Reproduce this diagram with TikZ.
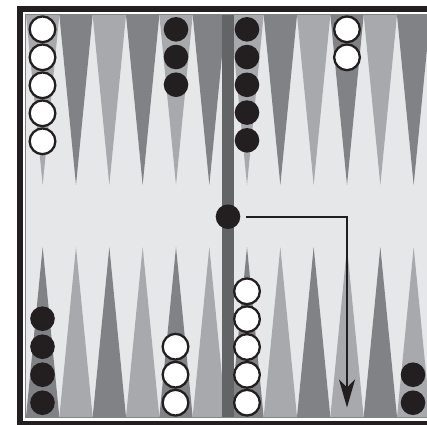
\documentclass[tikz,border=0pt]{standalone}
\usetikzlibrary{arrows.meta}
\definecolor{boardbg}{HTML}{E6E7E8}
\definecolor{ptlightc}{HTML}{A7A9AC}
\definecolor{ptdarkc}{HTML}{808285}
\definecolor{barc}{HTML}{636466}
\definecolor{inkc}{HTML}{231F20}
\begin{document}
\begin{tikzpicture}[x=1pt,y=-1pt,
  wch/.style={circle,draw=inkc,line width=2.3pt,fill=white,minimum size=25.7pt,inner sep=0pt},
  bch/.style={circle,fill=inkc,minimum size=24.6pt,inner sep=0pt},
  movearrow/.style={draw=inkc,line width=2pt,-{Stealth[length=28pt,width=16pt,inset=8pt]}}]
\useasboundingbox (0,0) rectangle (427,424);
\clip (0,0) rectangle (427,424);
% frame
\fill[inkc] (17,5.5) rectangle (445,426.5);
\fill[white] (23.3,12) rectangle (439,420.5);
\filldraw[fill=boardbg,draw=ptdarkc,line width=0.8pt] (25.5,14.5) rectangle (431,417.3);
% points
\foreach \h/\xs in {0/26,1/230.33}{
  \foreach \i in {0,...,5}{
    \pgfmathsetmacro{\xa}{\xs+33.333*\i}
    \pgfmathsetmacro{\xb}{\xa+33.333}
    \pgfmathsetmacro{\xm}{\xa+16.667}
    \ifodd\i
      \fill[ptdarkc] (\xa,15) -- (\xb,15) -- (\xm,185) -- cycle;
      \fill[ptlightc] (\xa,417) -- (\xb,417) -- (\xm,247) -- cycle;
    \else
      \fill[ptlightc] (\xa,15) -- (\xb,15) -- (\xm,185) -- cycle;
      \fill[ptdarkc] (\xa,417) -- (\xb,417) -- (\xm,247) -- cycle;
    \fi
  }
}
% bar
\fill[barc] (222,15) rectangle (234,417.3);
% checkers top
\foreach \k in {0,...,4} \node[wch] (tlw\k) at (42.5,29.3+28*\k) {};
\foreach \k in {0,...,2} \node[bch] (tb\k) at (176,29.3+27.7*\k) {};
\foreach \k in {0,...,4} \node[bch] (trb\k) at (247,29.3+27.75*\k) {};
\foreach \k in {0,...,1} \node[wch] (trw\k) at (347,29.3+28*\k) {};
% checkers bottom
\foreach \k in {0,...,3} \node[bch] (blb\k) at (42.5,402.7-28*\k) {};
\foreach \k in {0,...,2} \node[wch] (bw\k) at (175.5,402.7-28*\k) {};
\foreach \k in {0,...,4} \node[wch] (brw\k) at (247,402.7-27.85*\k) {};
\foreach \k in {0,...,1} \node[bch] (brb\k) at (413,402.7-28*\k) {};
% bar checker
\node[bch] (barck) at (228,216.7) {};
% move arrow
\coordinate (mvstart) at (246.3,216.7);
\coordinate (mvend) at (347,407.5);
\draw[movearrow] (mvstart) -| (mvend);
\end{tikzpicture}
\end{document}
